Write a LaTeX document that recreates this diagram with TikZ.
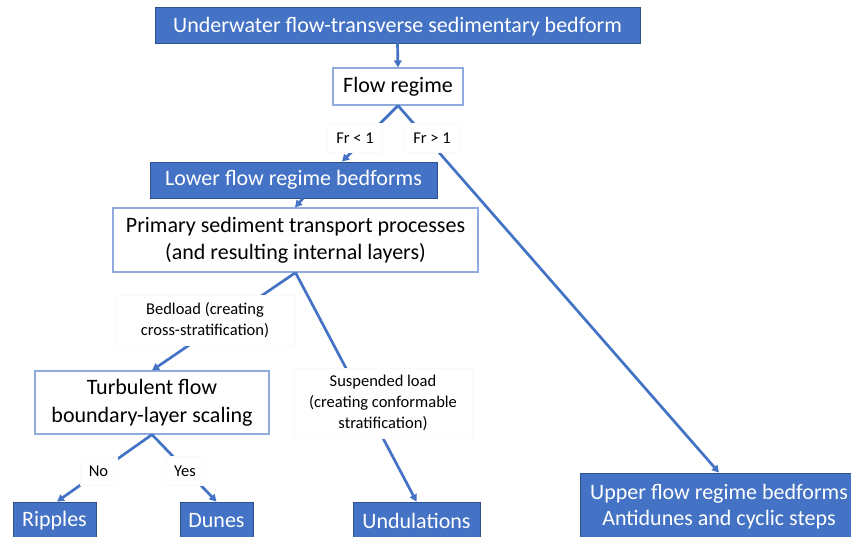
\documentclass[tikz,border=0pt]{standalone}
\usepackage{fontspec}
\setmainfont{Carlito}
\usetikzlibrary{arrows.meta}
\definecolor{bblue}{HTML}{4472C4}
\definecolor{bedge}{HTML}{2F528F}
\definecolor{lblue}{HTML}{8FAADC}
\begin{document}
\begin{tikzpicture}[x=1pt,y=-1pt,
 filled/.style={fill=bblue,draw=bedge,line width=0.8pt,text=white,font=\fontsize{22}{27.5}\selectfont,inner sep=0pt,align=center},
 openbox/.style={fill=white,draw=lblue,line width=1.2pt,font=\fontsize{22}{27.5}\selectfont,inner sep=0pt,align=center},
 lab/.style={fill=white,draw=black!2,line width=0.4pt,font=\fontsize{16.5}{21}\selectfont,inner sep=0pt,align=center},
 conn/.style={draw=bblue,line width=2.7pt,-{Triangle[length=7pt,width=7.5pt]}}]
\useasboundingbox (0,0) rectangle (851,536);
\clip (0,0) rectangle (851,536);
\fill[white] (0,0) rectangle (851,536);

\node[filled,minimum width=485pt,minimum height=36pt,text depth=1pt] (top) at (397.5,25) {Underwater flow-transverse sedimentary bedform};
\node[openbox,minimum width=130pt,minimum height=37pt] (flow) at (398,86.5) {Flow regime};
\node[filled,minimum width=287pt,minimum height=36pt] (lower) at (293.5,180) {Lower flow regime bedforms};
\node[openbox,minimum width=365pt,minimum height=64pt] (primary) at (295.5,240) {Primary sediment transport processes\\(and resulting internal layers)};
\node[openbox,minimum width=234pt,minimum height=63pt] (turb) at (152,402.5) {Turbulent flow\\boundary-layer scaling};
\node[filled,minimum width=83pt,minimum height=38pt] (ripples) at (54.5,521) {Ripples};
\node[filled,minimum width=73pt,minimum height=38pt] (dunes) at (216.5,521) {Dunes};
\node[filled,minimum width=127pt,minimum height=38pt] (undul) at (416.5,521) {Undulations};
\node[filled,minimum width=278pt,minimum height=68pt,font=\fontsize{22}{26}\selectfont] (upper) at (719,507) {Upper flow regime bedforms\\Antidunes and cyclic steps};

\draw[conn] (top.south) -- (flow.north);
\draw[conn] (flow.south) -- ([xshift=48.5pt]lower.north);
\draw[conn] (flow.south) -- (upper.north);
\draw[conn] ([xshift=9.5pt]lower.south) -- ([xshift=-0.5pt]primary.north);
\draw[conn] (primary.south) -- (turb.north);
\draw[conn] (primary.south) -- (undul.north);
\draw[conn] (turb.south) -- ([xshift=2.5pt]ripples.north);
\draw[conn] (turb.south) -- (dunes.north);

\node[lab,minimum width=55pt,minimum height=29pt] (fr1) at (355,138) {Fr < 1};
\node[lab,minimum width=55pt,minimum height=29pt] (fr2) at (432,138) {Fr > 1};
\node[lab,minimum width=180pt,minimum height=50pt] (bed) at (205,320) {Bedload (creating\\cross-stratification)};
\node[lab,minimum width=178pt,minimum height=70pt] (susp) at (383,403) {Suspended load\\(creating conformable\\stratification)};
\node[lab,minimum width=37pt,minimum height=28pt] (no) at (98.5,471) {No};
\node[lab,minimum width=40pt,minimum height=29pt] (yes) at (185,471) {Yes};
\end{tikzpicture}
\end{document}
